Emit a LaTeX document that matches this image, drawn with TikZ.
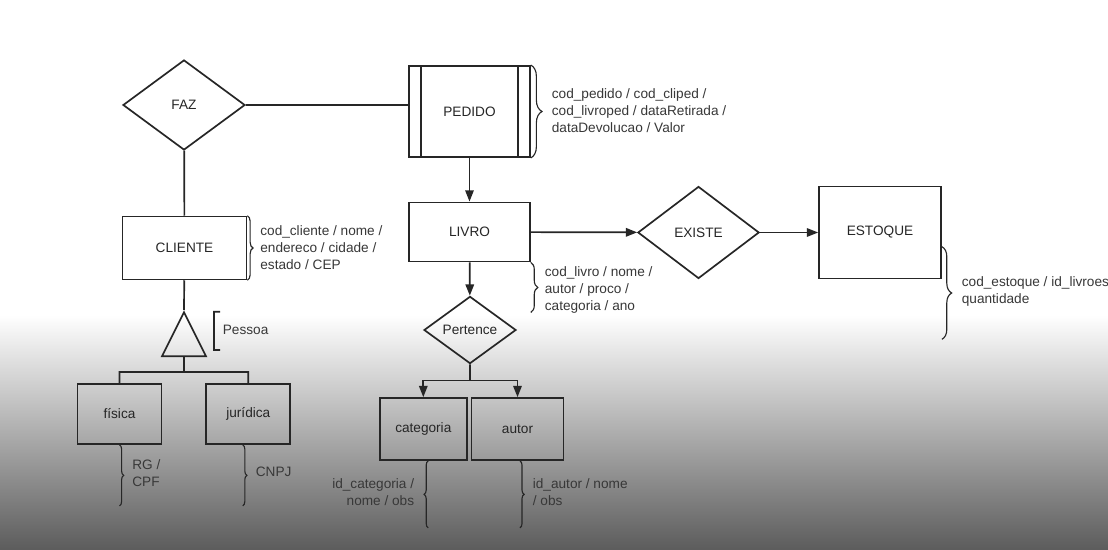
\documentclass[tikz,border=0pt]{standalone}
\usepackage{fontspec}
\setmainfont{Liberation Sans}
\usetikzlibrary{shapes.geometric,arrows.meta,decorations.pathreplacing}

\begin{document}
\begin{tikzpicture}[x=0.025cm, y=-0.025cm, line width=1.2pt, color=black!85,
    font=\fontsize{9.7}{12}\selectfont,
    >={Triangle[length=8pt,width=6pt]},
    entity/.style={rectangle, draw, inner sep=0pt},
    assoc/.style={entity, path picture={
      \draw ([xshift=0.3cm]path picture bounding box.north west) -- ([xshift=0.3cm]path picture bounding box.south west)
        ([xshift=-0.3cm]path picture bounding box.north east) -- ([xshift=-0.3cm]path picture bounding box.south east);}},
    relation/.style={diamond, draw, inner sep=0pt},
    attr/.style={inner sep=0pt, align=left, anchor=west, text=black!78},
    attrbrace/.style={decorate, line width=0.8pt, decoration={brace, amplitude=#1}}]
    \useasboundingbox (0,0) rectangle (1108,550);
    \fill[white] (0,0) rectangle (1108,550);
    \shade[top color=white, bottom color=black!64] (0,315) rectangle (1108,550);

    \node[relation, minimum width=3.05cm, minimum height=2.25cm]
      (faz) at (184,105)
      {FAZ};
    \node[assoc, minimum width=3.02cm, minimum height=2.28cm]
      (pedido) at (469.5,111.5)
      {PEDIDO};
    \node[entity, minimum width=3.1cm, minimum height=1.57cm]
      (cliente) at (184.5,248)
      {CLIENTE};
    \node[entity, minimum width=3.02cm, minimum height=1.48cm]
      (livro) at (469.5,232)
      {LIVRO};
    \node[relation, minimum width=3.03cm, minimum height=2.3cm]
      (existe) at (698.5,232.5)
      {EXISTE};
    \node[entity, minimum width=3.05cm, minimum height=2.3cm]
      (estoque) at (880,232.5)
      {ESTOQUE};
    \node[relation, minimum width=2.3cm, minimum height=1.68cm]
      (pertence) at (470,330)
      {Pertence};
    \node[isosceles triangle, isosceles triangle stretches, shape border rotate=90, draw,
      minimum width=1.1cm, minimum height=1.1cm, inner sep=0pt, anchor=apex]
      (isa) at (184,310)
      {};
    \node[entity, minimum width=2.1cm, minimum height=1.5cm]
      (fisica) at (119.5,414)
      {física};
    \node[entity, minimum width=2.1cm, minimum height=1.5cm]
      (juridica) at (248.3,414)
      {jurídica};
    \node[entity, minimum width=2.18cm, minimum height=1.55cm]
      (categoria) at (423.3,429)
      {categoria};
    \node[entity, minimum width=2.3cm, minimum height=1.55cm]
      (autor) at (517.5,429)
      {autor};

    \node[attr] (pedidoattr) at (551,110.5)
      {cod\_pedido / cod\_cliped /\\cod\_livroped / dataRetirada /\\dataDevolucao / Valor};
    \node[attr] (clienteattr) at (259.5,247.5)
      {cod\_cliente / nome /\\endereco / cidade /\\estado / CEP};
    \node[attr] (livroattr) at (544,290)
      {cod\_livro / nome /\\autor / proco /\\categoria / ano};
    \node[attr] (estoqueattr) at (961,291.5)
      {cod\_estoque / id\_livroes\\quantidade};
    \node[attr] (fisicaattr) at (131.5,473.5) {RG /\\CPF};
    \node[attr] (juridicaattr) at (255,472) {CNPJ};
    \node[attr, anchor=east, align=right] (categoriaattr) at (415,492)
      {id\_categoria /\\nome / obs};
    \node[attr] (autorattr) at (532,492) {id\_autor / nome\\/ obs};
    \node[attr] (pessoa) at (222,330) {Pessoa};

    \draw
      (faz.east) -- (faz.east -| pedido.west)
      (faz) -- (cliente)
      (cliente) -- (isa.apex)
      (isa.lower side) -- ++(0,15) coordinate (isajoin)
      (fisica.north) |- (isajoin) -| (juridica.north)
      (pertence.south) -- ++(0,16) coordinate (pertencejoin)
      (pedido) edge[->] (livro)
      (livro) edge[->] (existe)
      (existe) edge[->] (estoque)
      (livro) edge[->] (pertence)
      (220,311.7) -| (214,350) -- (220,350)
      ;
    \draw[->] (pertencejoin) -| (categoria.north);
    \draw[->] (pertencejoin) -| (autor.north);

    \draw[attrbrace=8pt] (pedido.north east) -- (pedido.south east);
    \draw[attrbrace=4pt] (cliente.north east) -- (cliente.south east);
    \draw[attrbrace=5pt] (livro.south east) -- ++(0,50);
    \draw[attrbrace=7pt] ([yshift=-0.355cm]estoque.east) -- ++(0,92.6);
    \draw[attrbrace=3pt] (fisica.south) -- ++(0,61);
    \draw[attrbrace=3pt] ([xshift=-0.14cm]juridica.south) -- ++(0,61);
    \draw[attrbrace=3pt] ([xshift=0.125cm,yshift=-1.675cm]categoria.south) -- ([xshift=0.125cm]categoria.south);
    \draw[attrbrace=3pt] ([xshift=0.06cm]autor.south) -- ++(0,67);
  \end{tikzpicture}
\end{document}
